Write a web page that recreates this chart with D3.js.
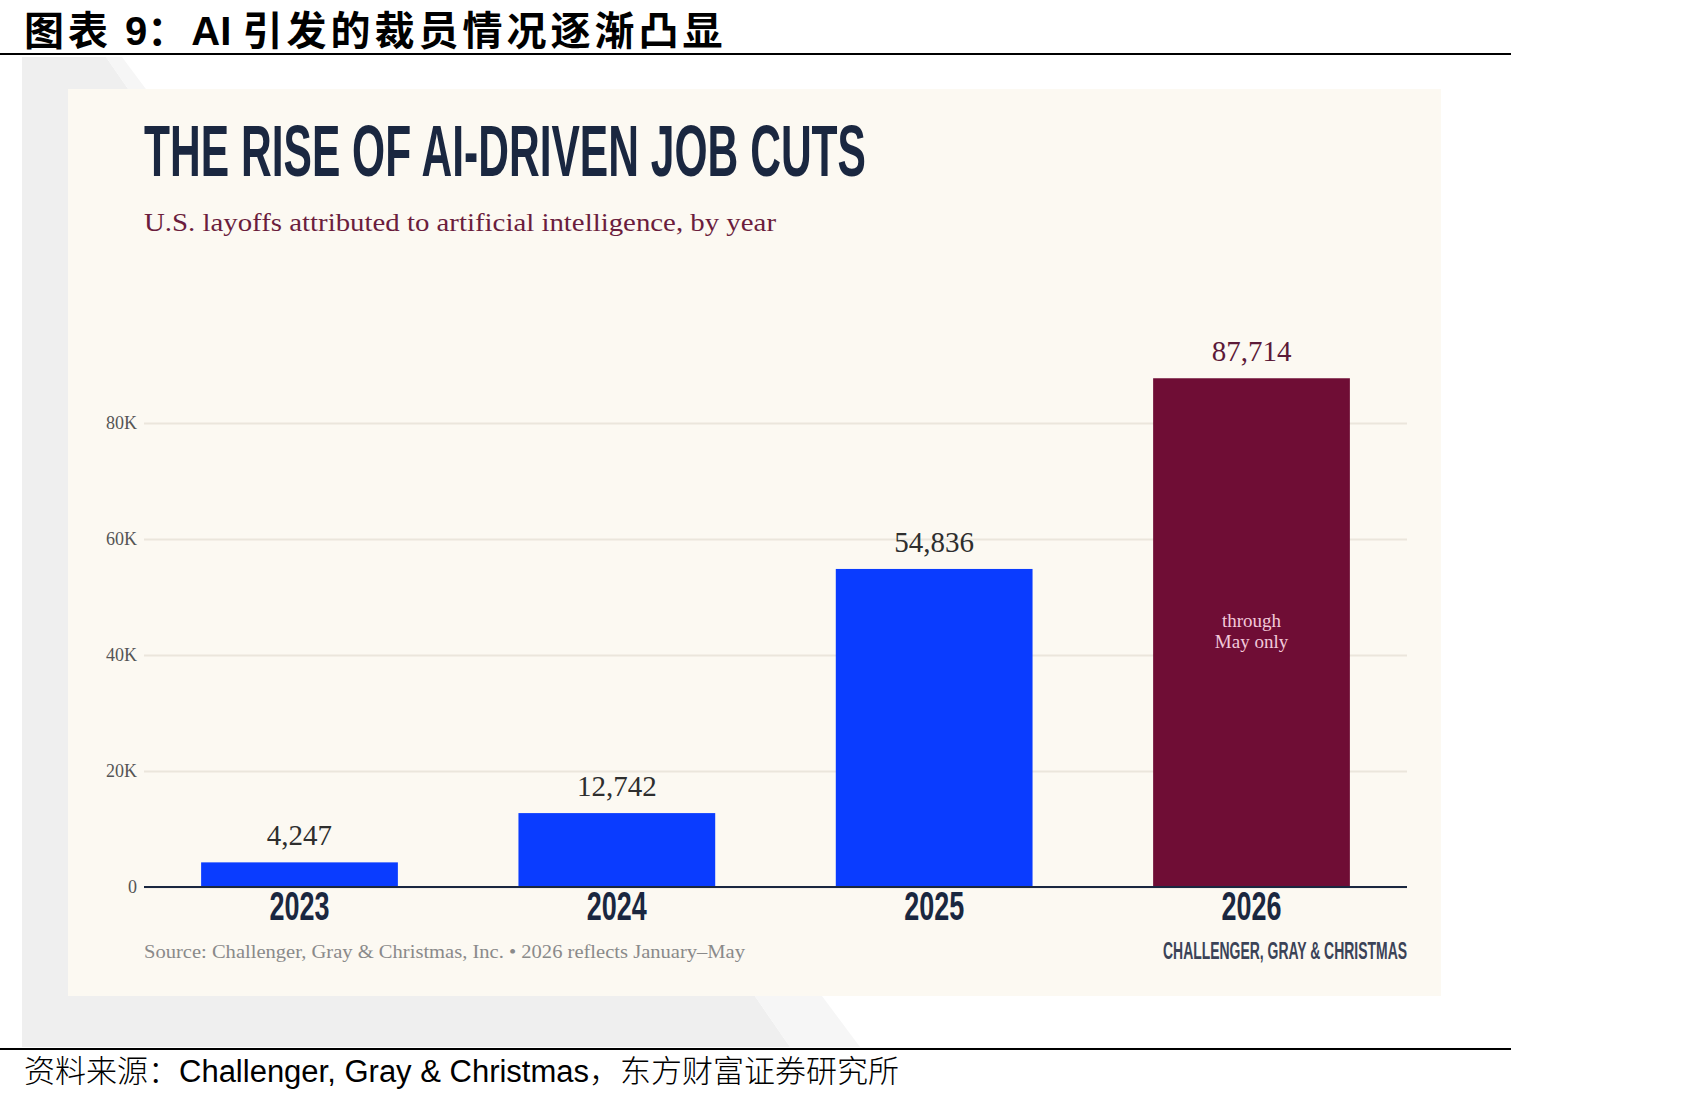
<!DOCTYPE html>
<html>
<head>
<meta charset="utf-8">
<script src="https://cdn.jsdelivr.net/npm/d3@7"></script>
<style>
  html, body { margin: 0; padding: 0; background: #ffffff; }
  svg { display: block; }
</style>
</head>
<body>
<div id="chart"></div>
<script>
const kSvgWidth = 1701;
const kSvgHeight = 1102;

// chart values
const years = ["2023", "2024", "2025", "2026"];
const layoffs = [4247, 12742, 54836, 87714];
const partialYear = "2026";
const partialNote = ["through", "May only"];
const yTicks = [0, 20000, 40000, 60000, 80000];
const yTickLabels = ["0", "20K", "40K", "60K", "80K"];

const kPlotLeft = 144;
const kPlotRight = 1407;
const kPlotTop = 423;
const kPlotBottom = 887;

const kNavy = "#1a2740";
const kBlue = "#0a3cff";
const kMaroon = "#6f0d35";
const kCream = "#fcf9f2";

const serif = "'Liberation Serif', 'DejaVu Serif', serif";
const narrow = "'Liberation Sans Narrow', 'Liberation Sans', Arial, sans-serif";
const cjk = "'Noto Sans CJK SC', 'Liberation Sans', sans-serif";
const latin = "'Liberation Sans', Arial, sans-serif";

function createSvg()
{
  const svg = d3.select("#chart")
    .append("svg")
    .attr("width", kSvgWidth)
    .attr("height", kSvgHeight);

  svg.append("rect")
    .attr("width", kSvgWidth)
    .attr("height", kSvgHeight)
    .attr("fill", "#ffffff");

  return svg;
}

function drawFrame(svg)
{
  // report heading
  const head = svg.append("text")
    .attr("x", 24)
    .attr("y", 45)
    .attr("font-size", 40)
    .attr("font-weight", "bold")
    .attr("fill", "#000");
  head.append("tspan").attr("font-family", cjk).attr("letter-spacing", 4).text("图表 ");
  head.append("tspan").attr("font-family", latin).text("9");
  head.append("tspan").attr("font-family", cjk).attr("letter-spacing", 4).text("：");
  head.append("tspan").attr("font-family", latin).attr("letter-spacing", 0).text("AI ");
  head.append("tspan").attr("font-family", cjk).attr("letter-spacing", 4).text("引发的裁员情况逐渐凸显");

  svg.append("line")
    .attr("x1", 0).attr("x2", 1511)
    .attr("y1", 54).attr("y2", 54)
    .attr("stroke", "#000").attr("stroke-width", 2);

  // grey photo background behind the card
  svg.append("polygon")
    .attr("points", "22,57 106,57 790,1047 22,1047")
    .attr("fill", "#efefef");
  svg.append("polygon")
    .attr("points", "106,57 122,57 860,1047 790,1047")
    .attr("fill", "#f6f6f6");

  svg.append("rect")
    .attr("x", 68).attr("y", 89)
    .attr("width", 1441 - 68).attr("height", 996 - 89)
    .attr("fill", kCream);

  svg.append("line")
    .attr("x1", 0).attr("x2", 1511)
    .attr("y1", 1049).attr("y2", 1049)
    .attr("stroke", "#000").attr("stroke-width", 2);

  const foot = svg.append("text")
    .attr("x", 24)
    .attr("y", 1082)
    .attr("font-size", 31)
    .attr("fill", "#000");
  foot.append("tspan").attr("font-family", cjk).attr("font-weight", 300).text("资料来源：");
  foot.append("tspan").attr("font-family", latin).text("Challenger, Gray & Christmas");
  foot.append("tspan").attr("font-family", cjk).attr("font-weight", 300).text("，东方财富证券研究所");
}

function drawChart(svg)
{
  svg.append("text")
    .attr("x", kPlotLeft)
    .attr("y", 176)
    .attr("font-family", narrow)
    .attr("font-weight", "bold")
    .attr("font-size", 72)
    .attr("fill", kNavy)
    .attr("textLength", 722)
    .attr("lengthAdjust", "spacingAndGlyphs")
    .text("THE RISE OF AI-DRIVEN JOB CUTS");

  svg.append("text")
    .attr("x", kPlotLeft)
    .attr("y", 231)
    .attr("font-family", serif)
    .attr("font-size", 25)
    .attr("fill", "#6b1d3d")
    .attr("textLength", 632)
    .attr("lengthAdjust", "spacingAndGlyphs")
    .text("U.S. layoffs attributed to artificial intelligence, by year");

  const xScale = d3.scaleBand()
    .domain(years)
    .range([kPlotLeft, kPlotRight])
    .paddingInner(0.38)
    .paddingOuter(0.18);

  const yScale = d3.scaleLinear()
    .domain([0, 80000])
    .range([kPlotBottom, kPlotTop]);

  const yAxis = d3.axisLeft(yScale)
    .tickValues(yTicks)
    .tickFormat((d, i) => yTickLabels[i])
    .tickSize(-(kPlotRight - kPlotLeft))
    .tickPadding(7);

  const yG = svg.append("g")
    .attr("id", "y-axis")
    .attr("transform", `translate(${kPlotLeft}, 0)`)
    .call(yAxis);
  yG.select(".domain").remove();
  yG.selectAll(".tick line")
    .attr("stroke", "#ebe6dc")
    .attr("stroke-width", 2);
  yG.selectAll(".tick text")
    .attr("font-family", serif)
    .attr("font-size", 18)
    .attr("fill", "#555");

  svg.selectAll("rect.bar")
    .data(years)
    .enter()
    .append("rect")
    .attr("class", "bar")
    .attr("x", d => xScale(d))
    .attr("y", (d, i) => yScale(layoffs[i]))
    .attr("width", xScale.bandwidth())
    .attr("height", (d, i) => yScale(0) - yScale(layoffs[i]))
    .attr("fill", d => d === partialYear ? kMaroon : kBlue);

  svg.append("line")
    .attr("x1", kPlotLeft).attr("x2", kPlotRight)
    .attr("y1", yScale(0)).attr("y2", yScale(0))
    .attr("stroke", kNavy).attr("stroke-width", 2);

  svg.selectAll("text.value")
    .data(years)
    .enter()
    .append("text")
    .attr("class", "value")
    .attr("x", d => xScale(d) + xScale.bandwidth() / 2)
    .attr("y", (d, i) => yScale(layoffs[i]) - 17)
    .attr("text-anchor", "middle")
    .attr("font-family", serif)
    .attr("font-size", 29)
    .attr("fill", d => d === partialYear ? "#5c1a38" : "#2e2e2e")
    .text((d, i) => d3.format(",")(layoffs[i]));

  const note = svg.append("text")
    .attr("text-anchor", "middle")
    .attr("font-family", serif)
    .attr("font-size", 19)
    .attr("fill", "#f2c9da");
  partialNote.forEach((line, i) => {
    note.append("tspan")
      .attr("x", xScale(partialYear) + xScale.bandwidth() / 2)
      .attr("y", 627 + i * 21)
      .text(line);
  });

  const xAxis = d3.axisBottom(xScale).tickSize(0);
  const xG = svg.append("g")
    .attr("id", "x-axis")
    .attr("transform", `translate(0, ${kPlotBottom})`)
    .call(xAxis);
  xG.select(".domain").remove();
  xG.selectAll(".tick text")
    .attr("y", 33)
    .attr("dy", 0)
    .attr("font-family", narrow)
    .attr("font-weight", "bold")
    .attr("font-size", 40)
    .attr("fill", kNavy)
    .attr("textLength", 60)
    .attr("lengthAdjust", "spacingAndGlyphs");

  svg.append("text")
    .attr("x", kPlotLeft)
    .attr("y", 958)
    .attr("font-family", serif)
    .attr("font-size", 18)
    .attr("fill", "#8a8a8a")
    .attr("textLength", 601)
    .attr("lengthAdjust", "spacingAndGlyphs")
    .text("Source: Challenger, Gray & Christmas, Inc.  \u2022  2026 reflects January\u2013May");

  svg.append("text")
    .attr("x", kPlotRight)
    .attr("y", 959)
    .attr("text-anchor", "end")
    .attr("font-family", narrow)
    .attr("font-weight", "bold")
    .attr("font-size", 24)
    .attr("fill", "#3b4357")
    .attr("textLength", 244)
    .attr("lengthAdjust", "spacingAndGlyphs")
    .text("CHALLENGER, GRAY & CHRISTMAS");
}

document.addEventListener('DOMContentLoaded', () => {
  const svg = createSvg();
  drawFrame(svg);
  drawChart(svg);
});
</script>
</body>
</html>
